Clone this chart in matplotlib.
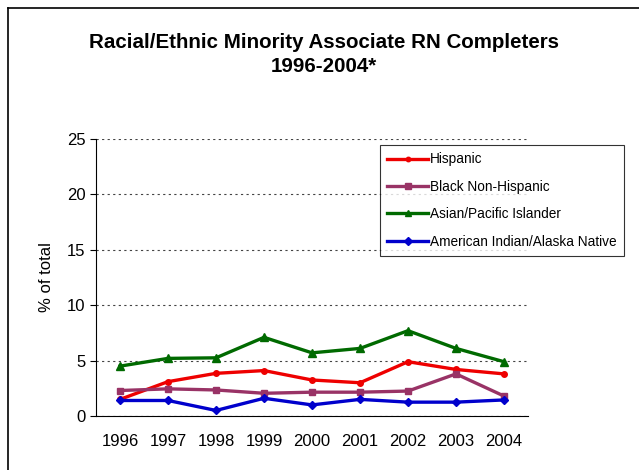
import matplotlib.pyplot as plt
from matplotlib.lines import Line2D

plt.rcParams['font.family'] = ['Liberation Sans', 'DejaVu Sans']

years = ['1996', '1997', '1998', '1999', '2000', '2001', '2002', '2003', '2004']
hispanic = [1.5, 3.1, 3.85, 4.1, 3.25, 3.0, 4.9, 4.2, 3.8]
black = [2.3, 2.45, 2.35, 2.05, 2.15, 2.15, 2.25, 3.8, 1.8]
asian = [4.5, 5.2, 5.25, 7.1, 5.7, 6.1, 7.7, 6.1, 4.9]
am_indian = [1.4, 1.4, 0.5, 1.6, 1.0, 1.5, 1.25, 1.25, 1.45]

W, H = 639, 470
fig = plt.figure(figsize=(W / 100, H / 100), dpi=100)
ax = fig.add_axes([96 / W, 1 - 416 / H, 432 / W, 277 / H])

x = list(range(len(years)))
ax.plot(x, hispanic, color='#ee0000', lw=2.4, marker='o', ms=4, label='Hispanic')
ax.plot(x, black, color='#993366', lw=2.4, marker='s', ms=5, label='Black Non-Hispanic')
ax.plot(x, asian, color='#006a00', lw=2.4, marker='^', ms=6, label='Asian/Pacific Islander')
ax.plot(x, am_indian, color='#0000cc', lw=2.4, marker='D', ms=4.5, label='American Indian/Alaska Native')

ax.set_xlim(-0.5, len(years) - 0.5)
ax.set_ylim(0, 25)
ax.set_xticks(x)
ax.set_xticklabels(years)
ax.set_yticks([0, 5, 10, 15, 20, 25])
ax.tick_params(axis='x', length=0, pad=13, labelsize=12)
ax.tick_params(axis='y', length=4, direction='out', labelsize=12)
ax.yaxis.grid(True, ls=(0, (2, 3)), color='#444444', lw=0.8)
ax.set_axisbelow(True)
ax.spines.right.set_visible(False)
ax.spines.top.set_visible(False)
ax.set_ylabel('% of total', fontsize=12, labelpad=9)

fig.text(324 / W, 1 - 43 / H, 'Racial/Ethnic Minority Associate RN Completers',
         ha='center', va='center', fontsize=14.8, fontweight='bold')
fig.text(324 / W, 1 - 66 / H, '1996-2004*',
         ha='center', va='center', fontsize=14.8, fontweight='bold')

leg = fig.legend(loc='upper left', bbox_to_anchor=(380 / W, 1 - 145 / H),
                 bbox_transform=fig.transFigure, frameon=True, fancybox=False,
                 edgecolor='black', fontsize=9.8, handlelength=3.0,
                 handletextpad=0.1, labelspacing=0.98, borderaxespad=0,
                 borderpad=0.55, markerscale=0.8)
leg.get_frame().set_linewidth(0.8)

# outer chart frame (left and top edges visible)
fig.add_artist(Line2D([8 / W, 8 / W], [0, 1 - 8 / H], color='black', lw=1.2,
                      transform=fig.transFigure))
fig.add_artist(Line2D([8 / W, 1], [1 - 8 / H, 1 - 8 / H], color='black', lw=1.2,
                      transform=fig.transFigure))

fig.savefig('out.png', dpi=100)
